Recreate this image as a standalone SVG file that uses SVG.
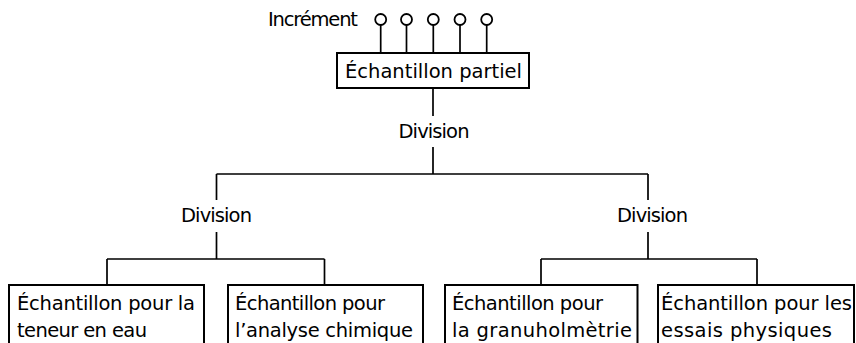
<svg xmlns="http://www.w3.org/2000/svg" width="856" height="343" viewBox="0 0 856 343">
<style>
  .bg { fill: #ffffff; }
  .box { fill: #ffffff; stroke: #000000; stroke-width: 2; }
  .ln { fill: none; stroke: #000000; stroke-width: 1.7; }
  .inc { fill: #ffffff; stroke: #000000; stroke-width: 1.8; }
  text { font-family: "DejaVu Sans", "Liberation Sans", sans-serif; font-size: 19.5px; fill: #000000; }
</style>
<rect class="bg" x="0" y="0" width="856" height="343"/>

<g id="connectors">
  <!-- increments to partial sample -->
  <path class="ln" d="M380.7 25 V53 M406.5 25 V53 M433.3 25 V53 M460 25 V53 M486.7 25 V53"/>
  <!-- partial sample to first division -->
  <path class="ln" d="M433 88 V116"/>
  <path class="ln" d="M433 147 V174 M216.5 174 H648 M216.5 174 V200 M648 174 V200"/>
  <!-- left division -->
  <path class="ln" d="M216.5 232 V259 M107 259 H324.5 M107 259 V285 M324.5 259 V285"/>
  <!-- right division -->
  <path class="ln" d="M648 232 V259 M541 259 H757 M541 259 V285 M757 259 V285"/>
</g>

<g id="increments">
  <text x="268" y="26" textLength="90">Incrément</text>
  <circle class="inc" cx="380.7" cy="19.5" r="5.5"/>
  <circle class="inc" cx="406.5" cy="19.5" r="5.5"/>
  <circle class="inc" cx="433.3" cy="19.5" r="5.5"/>
  <circle class="inc" cx="460" cy="19.5" r="5.5"/>
  <circle class="inc" cx="486.7" cy="19.5" r="5.5"/>
</g>

<g id="partial-sample">
  <rect class="box" x="337" y="53" width="192" height="35"/>
  <text x="345" y="77.5" textLength="177">Échantillon partiel</text>
</g>

<g id="division-top">
  <text x="398.5" y="137.5" textLength="71">Division</text>
</g>
<g id="division-left">
  <text x="181" y="221.7" textLength="71">Division</text>
</g>
<g id="division-right">
  <text x="617" y="221.7" textLength="71">Division</text>
</g>

<g id="sample-water">
  <rect class="box" x="9" y="285" width="195" height="70"/>
  <text x="17" y="310" textLength="178">Échantillon pour la</text>
  <text x="17" y="336.5" textLength="130">teneur en eau</text>
</g>

<g id="sample-chemical">
  <rect class="box" x="228" y="285" width="195" height="70"/>
  <text x="235" y="310" textLength="150">Échantillon pour</text>
  <text x="235" y="336.5" textLength="178">l’analyse chimique</text>
</g>

<g id="sample-granulometry">
  <rect class="box" x="445" y="285" width="192.5" height="70"/>
  <text x="452" y="310" textLength="151">Échantillon pour</text>
  <text x="452" y="336.5" textLength="180">la granuholmètrie</text>
</g>

<g id="sample-physical">
  <rect class="box" x="658" y="285" width="196" height="70"/>
  <text x="661" y="310" textLength="191">Échantillon pour les</text>
  <text x="661" y="336.5" textLength="171">essais physiques</text>
</g>
</svg>
